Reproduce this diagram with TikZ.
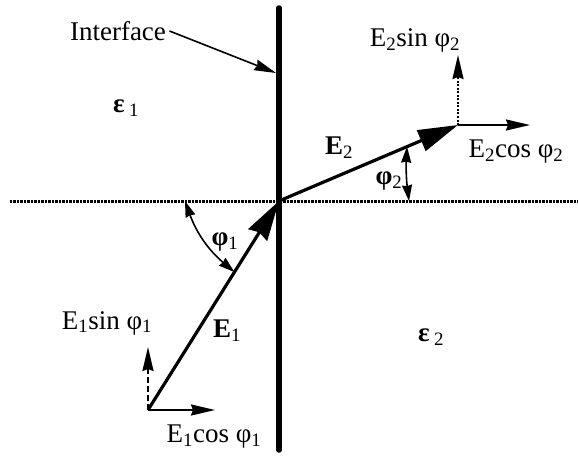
\documentclass[tikz,border=0pt]{standalone}
\usepackage{fontspec}
\setmainfont{Liberation Serif}
\usetikzlibrary{arrows.meta,positioning,calc}

\begin{document}
\begin{tikzpicture}[x=1pt,y=1pt,>=Stealth,font=\fontsize{27}{30}\selectfont,
    bigvec/.style={line width=3.2pt,-{Stealth[length=40pt,width=22pt,inset=3pt]}},
    compvec/.style={line width=2pt,-{Stealth[length=24pt,width=11pt,inset=2pt]}},
    anglemark/.style={line width=1.6pt,{Stealth[length=16pt,width=10pt,inset=1pt]}-{Stealth[length=16pt,width=10pt,inset=1pt]}}]
  \useasboundingbox (-279,-257) rectangle (299,201);
  %% Interface and boundary line
  \coordinate (O) at (0,0);
  \coordinate (itop) at (0,193);
  \coordinate (ibot) at (0,-249);
  \coordinate (bleft) at (-269,0);
  \coordinate (bright) at (299,0);
  \draw[line width=5.5pt,line cap=round] (itop) -- (ibot);
  \draw[line width=3pt,dash pattern=on 2.5pt off 1pt] (bleft) -- (bright);
  %% Field vectors
  \coordinate (E1tail) at (-131,-209);
  \coordinate (E2head) at (179,76);
  \draw[bigvec] (E1tail) -- (O);
  \draw[line width=3.2pt,-{Triangle[length=40pt,width=22pt]}] (O) -- (E2head);
  %% Components
  \coordinate (E1x) at (-64,-209);
  \coordinate (E1y) at (-131,-146);
  \coordinate (E2x) at (251,76);
  \coordinate (E2y) at (179,146);
  \draw[compvec] (E1tail) -- (E1x);
  \draw[compvec,dash pattern=on 6pt off 3pt] (E1tail) -- (E1y);
  \draw[compvec] (E2head) -- (E2x);
  \draw[compvec,dash pattern=on 2pt off 1.5pt] (E2head) -- (E2y);
  %% Angle marks
  \coordinate (a1start) at (-94,0);
  \coordinate (a1end) at ($(E1tail)!0.66!(O)$);
  \draw[anglemark] (a1start) to[bend right=15] (a1end);
  \coordinate (a2start) at (130,0);
  \coordinate (a2end) at ($(O)!0.715!(E2head)$);
  \draw[anglemark] (a2start) to[bend left=5] (a2end);
  %% Labels
  \node (iface) at (-161,170) {Interface};
  \coordinate (ifacept) at (-3,128);
  \draw[line width=1.6pt,-{Stealth[length=22pt,width=11pt,inset=2pt]}] (iface.east) -- (ifacept);
  \node (eps1) at (-153,93) {\textbf{ε}\,\textsubscript{1}};
  \node (eps2) at (152,-136) {\textbf{ε}\,\textsubscript{2}};
  \node (lblE1) at (-52,-130) {\textbf{E}\textsubscript{1}};
  \node (lblE2) at (60,53) {\textbf{E}\textsubscript{2}};
  \node (phi1) at (-54,-41) {\textbf{φ}\textsubscript{1}};
  \node (phi2) at (110,20) {\textbf{φ}\textsubscript{2}};
  \node (E1sin) at (-172,-122) {E\textsubscript{1}sin φ\textsubscript{1}};
  \node (E1cos) at (-65,-236) {E\textsubscript{1}cos φ\textsubscript{1}};
  \node (E2sin) at (136,161) {E\textsubscript{2}sin φ\textsubscript{2}};
  \node (E2cos) at (237,49) {E\textsubscript{2}cos φ\textsubscript{2}};
\end{tikzpicture}
\end{document}
